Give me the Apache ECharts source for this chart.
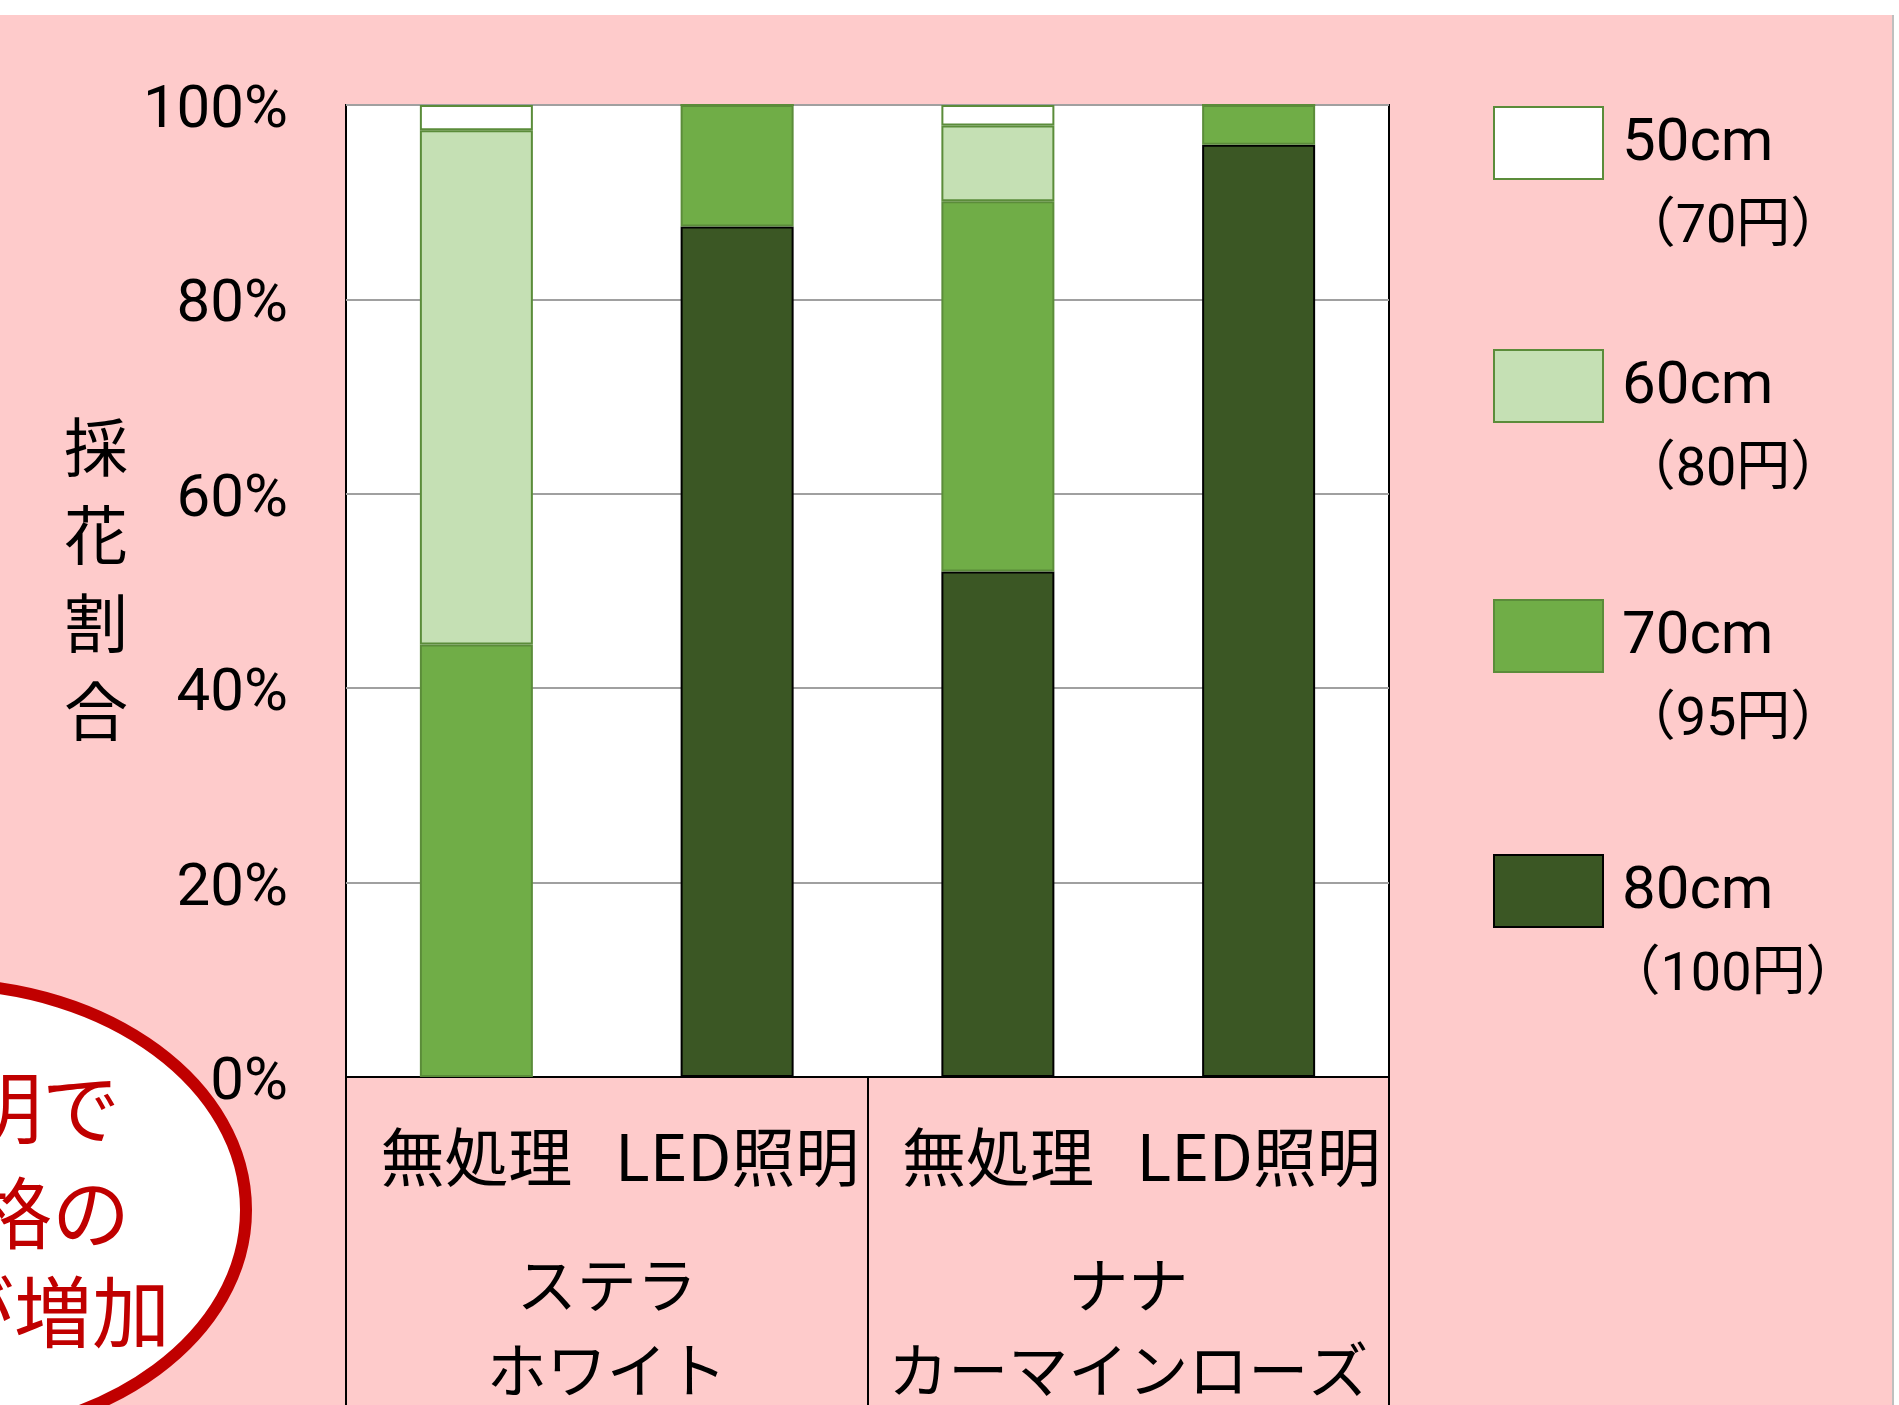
<!DOCTYPE html>
<html><head><meta charset="utf-8">
<script src="https://cdn.jsdelivr.net/npm/echarts@6/dist/echarts.min.js"></script>
<style>html,body{margin:0;padding:0;background:#fff}#c{width:1899px;height:1405px}</style>
</head><body><div id="c"></div>
<script>
// ---- data ----
const treatments = ['無処理', 'LED照明', '無処理', 'LED照明'];
const varieties = ['ステラ\nホワイト', 'ナナ\nカーマインローズ'];
const sizeNames = ['50cm', '60cm', '70cm', '80cm'];
const prices = ['（70円）', '（80円）', '（95円）', '（100円）'];
const v80 = [0, 87.5, 52.0, 95.9];
const v70 = [44.5, 12.5, 38.1, 4.1];
const v60 = [52.9, 0, 7.8, 0];
const v50 = [2.6, 0, 2.1, 0];
const yName = ['採', '花', '割', '合'];
const noteLines = ['LED照明で', '高価格の', '割合が増加'];

// ---- style ----
const NUMF = "Roboto,'Noto Sans CJK JP',sans-serif";
const JP = "'Noto Sans CJK JP',sans-serif";
const BORDER_GREEN = '#5B8C3A';
const legendTops = [106, 349, 599, 854];

const chart = echarts.init(document.getElementById('c'), null, {renderer: 'canvas'});

function barSeries(name, data, fill, border) {
  return {
    name: name, type: 'bar', stack: 'total', xAxisIndex: 0, barWidth: 113,
    data: data,
    itemStyle: {color: fill, borderColor: border, borderWidth: 2},
    emphasis: {disabled: true}
  };
}

const legends = sizeNames.map(function (n, i) {
  return {
    data: [n], orient: 'vertical', left: 1493, top: legendTops[i], padding: 0,
    itemWidth: 109, itemHeight: 72, icon: 'rect', selectedMode: false,
    formatter: function (nm) { return '{a|' + nm + '}\n{b|' + prices[sizeNames.indexOf(nm)] + '}'; },
    textStyle: {
      padding: [87, 0, 0, 14],
      rich: {
        a: {fontFamily: NUMF, fontSize: 60, lineHeight: 83, color: '#000'},
        b: {fontFamily: NUMF, fontSize: 54, lineHeight: 83, color: '#000', width: 222, align: 'center'}
      }
    }
  };
});

const option = {
  backgroundColor: '#FECBCB',
  animation: false,
  grid: {left: 346, right: 510, top: 105, bottom: 328, show: true, outerBoundsMode: 'none',
         containLabel: false,
         backgroundColor: '#fff', borderColor: '#000', borderWidth: 2},
  legend: legends,
  xAxis: [
    {type: 'category', data: treatments, position: 'bottom',
     axisLine: {lineStyle: {color: '#000', width: 2}}, axisTick: {show: false},
     axisLabel: {interval: 0, fontFamily: JP, fontSize: 64, color: '#000', margin: 48}},
    {type: 'category', data: varieties, position: 'bottom',
     axisLine: {show: false},
     axisTick: {show: true, length: 330, lineStyle: {color: '#000', width: 2}},
     axisLabel: {interval: 0, fontFamily: JP, fontSize: 60, lineHeight: 85, color: '#000', margin: 166}}
  ],
  yAxis: {
    type: 'value', min: 0, max: 100, interval: 20,
    axisLine: {show: false}, axisTick: {show: false},
    splitLine: {lineStyle: {color: '#A0A0A0', width: 2}},
    axisLabel: {
      formatter: function (v) { return '{v|' + v + '%}'; }, margin: 58,
      rich: {v: {fontFamily: NUMF, fontSize: 60, color: '#000', padding: [14, 0, 0, 0]}}
    },
    name: yName.map(function (c) { return '{t|' + c + '}'; }).join('\n') + '\n{s| }',
    nameLocation: 'middle', nameRotate: 0, nameGap: 218,
    nameTextStyle: {
      rich: {
        t: {fontFamily: JP, fontSize: 64, lineHeight: 88, color: '#000'},
        s: {fontFamily: JP, fontSize: 10, lineHeight: 24}
      }
    }
  },
  series: [
    barSeries('80cm', v80, '#3B5724', '#000'),
    barSeries('70cm', v70, '#70AD47', BORDER_GREEN),
    barSeries('60cm', v60, '#C5E0B4', BORDER_GREEN),
    barSeries('50cm', v50, '#FFFFFF', BORDER_GREEN)
  ],
  graphic: [
    {type: 'rect', left: 0, top: 0, shape: {width: 1899, height: 15}, style: {fill: '#fff'}, silent: true},
    {type: 'rect', left: 1893, top: 0, shape: {width: 6, height: 1405}, style: {fill: '#fff'}, silent: true},
    {type: 'rect', left: 1892, top: 15, shape: {width: 2, height: 1390}, style: {fill: '#BFBFBF'}, silent: true},
    {type: 'ellipse', shape: {cx: -60, cy: 1210, rx: 306, ry: 226},
     style: {fill: '#fff', stroke: '#C00000', lineWidth: 12}, silent: true, z: 10},
    {type: 'text', x: 120, y: 1108, z: 11, silent: true,
     style: {text: noteLines[0], fill: '#C00000', font: "78px 'Noto Sans CJK JP'", align: 'right', verticalAlign: 'middle'}},
    {type: 'text', x: 130, y: 1213, z: 11, silent: true,
     style: {text: noteLines[1], fill: '#C00000', font: "78px 'Noto Sans CJK JP'", align: 'right', verticalAlign: 'middle'}},
    {type: 'text', x: 170, y: 1312, z: 11, silent: true,
     style: {text: noteLines[2], fill: '#C00000', font: "78px 'Noto Sans CJK JP'", align: 'right', verticalAlign: 'middle'}}
  ]
};
chart.setOption(option);
</script></body></html>
